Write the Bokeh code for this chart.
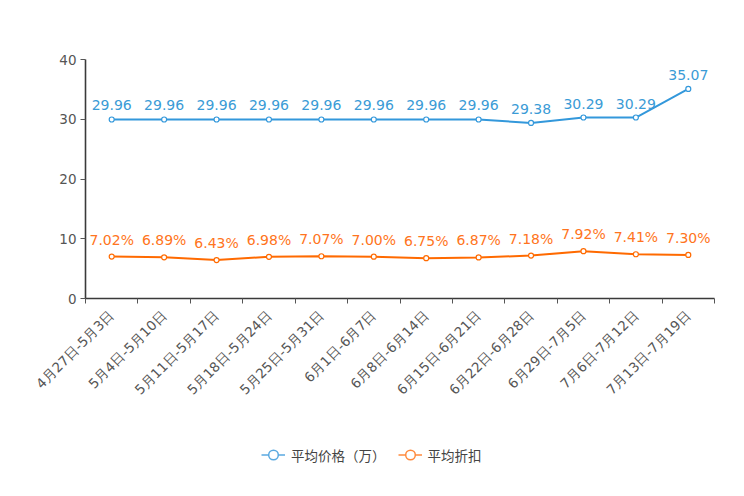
from bokeh.plotting import figure
from bokeh.models import (Range1d, FixedTicker, ColumnDataSource, Legend, LegendItem)
from bokeh.layouts import column
from bokeh.core.properties import value
from bokeh.embed import file_html
from bokeh.resources import INLINE
from math import pi

categories = ["4月27日-5月3日", "5月4日-5月10日", "5月11日-5月17日", "5月18日-5月24日",
              "5月25日-5月31日", "6月1日-6月7日", "6月8日-6月14日", "6月15日-6月21日",
              "6月22日-6月28日", "6月29日-7月5日", "7月6日-7月12日", "7月13日-7月19日"]
avg_price = [29.96, 29.96, 29.96, 29.96, 29.96, 29.96, 29.96, 29.96, 29.38, 30.29, 30.29, 35.07]
avg_discount = [7.02, 6.89, 6.43, 6.98, 7.07, 7.00, 6.75, 6.87, 7.18, 7.92, 7.41, 7.30]
y_ticks = [0, 10, 20, 30, 40]
series_names = ["平均价格（万）", "平均折扣"]

BLUE = "#3398DB"
ORANGE = "#FF6A00"
FONT = "DejaVu Sans"

xs = [i + 0.5 for i in range(len(categories))]

src_p = ColumnDataSource(dict(x=xs, y=avg_price, t=["%.2f" % v for v in avg_price]))
src_d = ColumnDataSource(dict(x=xs, y=avg_discount, t=["%.2f%%" % v for v in avg_discount]))

p = figure(frame_width=629, frame_height=239, min_border_left=85, min_border_top=59,
           min_border_right=22, min_border_bottom=110,
           x_range=Range1d(0, len(categories)), y_range=Range1d(0, 40),
           output_backend="svg", toolbar_location=None)
p.outline_line_color = None
p.xgrid.visible = False
p.ygrid.visible = False

# axes
p.xaxis.ticker = FixedTicker(ticks=xs, minor_ticks=list(range(len(categories) + 1)))
p.xaxis.major_label_overrides = {x: c for x, c in zip(xs, categories)}
p.xaxis.major_label_orientation = pi / 4
p.xaxis.major_tick_line_color = None
p.xaxis.minor_tick_out = 5
p.xaxis.minor_tick_in = 0
p.xaxis.minor_tick_line_color = "#555555"
p.xaxis.major_label_standoff = 8

p.yaxis.ticker = FixedTicker(ticks=y_ticks)
p.yaxis.major_tick_out = 5
p.yaxis.major_tick_in = 0
p.yaxis.minor_tick_line_color = None
p.yaxis.major_label_standoff = 4
p.yaxis.major_tick_line_color = "#555555"

for ax in (p.xaxis, p.yaxis):
    ax.axis_line_color = "#3a3a3a"
    ax.axis_line_width = 1.6
    ax.major_label_text_color = "#555555"
    ax.major_label_text_font = FONT
    ax.major_label_text_font_size = "13.5px"

# series
p.line("x", "y", source=src_p, line_color=BLUE, line_width=2)
p.scatter("x", "y", source=src_p, size=5, fill_color="white", line_color=BLUE, line_width=1.2)
p.line("x", "y", source=src_d, line_color=ORANGE, line_width=2)
p.scatter("x", "y", source=src_d, size=5, fill_color="white", line_color=ORANGE, line_width=1.2)

p.text("x", "y", text="t", source=src_p, text_align="center", text_baseline="bottom",
       y_offset=-9, text_color="#3a9bd6", text_font=value(FONT), text_font_size="14px")
p.text("x", "y", text="t", source=src_d, text_align="center", text_baseline="bottom",
       y_offset=-9, text_color="#ff7420", text_font=value(FONT), text_font_size="14px")

# legend strip (series renderers drawn out of view here; only their legend icons show)
p2 = figure(frame_width=736, frame_height=80, min_border=0,
            x_range=Range1d(1000, 1001), y_range=Range1d(1000, 1001),
            output_backend="svg", toolbar_location=None)
p2.axis.visible = False
p2.grid.visible = False
p2.outline_line_color = None

lg_lp = p2.line("x", "y", source=src_p, line_color="#5aa9e0", line_width=1.5)
lg_sp = p2.scatter("x", "y", source=src_p, size=10, fill_color="white", line_color="#5aa9e0", line_width=1.5)
lg_ld = p2.line("x", "y", source=src_d, line_color="#ff8a3d", line_width=1.5)
lg_sd = p2.scatter("x", "y", source=src_d, size=10, fill_color="white", line_color="#ff8a3d", line_width=1.5)

legend = Legend(items=[LegendItem(label=series_names[0], renderers=[lg_lp, lg_sp]),
                       LegendItem(label=series_names[1], renderers=[lg_ld, lg_sd])],
                orientation="horizontal", location=(261, 21),
                glyph_width=24, glyph_height=25, label_height=25, label_standoff=6,
                spacing=12, padding=0, margin=0,
                label_text_font="Noto Sans CJK SC", label_text_font_size="13.5px",
                label_text_color="#444444", background_fill_alpha=0, border_line_color=None)
p2.add_layout(legend, "center")

layout = column(p, p2, spacing=0)
open("out.html", "w").write(file_html(layout, INLINE))
